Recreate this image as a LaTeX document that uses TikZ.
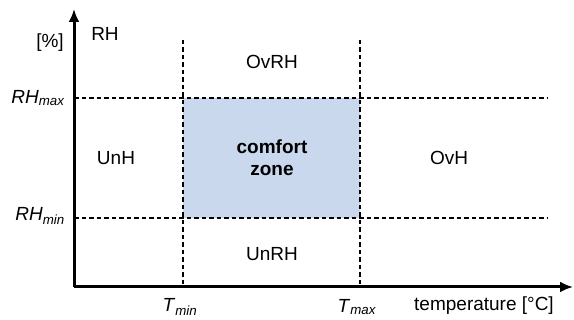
\documentclass[tikz,border=0pt]{standalone}
\usepackage{fontspec}
\setmainfont{Liberation Sans}
\usepackage{xcolor}
\usetikzlibrary{arrows.meta,positioning,calc}
\definecolor{czblue}{HTML}{C9D8EC}
\begin{document}
\begin{tikzpicture}[
 x=1pt, y=-1pt, font=\fontsize{19}{22}\selectfont,
 axis/.style={line width=3pt,-{Latex[length=13pt,width=11pt]}},
 limit/.style={line width=1.1pt,dash pattern=on 4.5pt off 3pt},
 region/.style={inner sep=0pt,anchor=center},
 tick/.style={inner sep=0pt}
]
\useasboundingbox (0,0) rectangle (574,320);
% axes
\coordinate (origin) at (74,287);
\coordinate (ytop) at (74,9);
\coordinate (xend) at (573,287);
% limits
\coordinate (tminT) at (183,40);
\coordinate (tmaxT) at (360,40);
\coordinate (rhmaxR) at (548,98);
\coordinate (rhminR) at (548,218);
\fill[czblue] (tminT |- rhmaxR) rectangle (tmaxT |- rhminR);
\foreach \c in {tminT,tmaxT} {
 \draw[limit] (\c) -- (\c |- origin);
}
\foreach \c in {rhmaxR,rhminR} {
 \draw[limit] (origin |- \c) -- (\c);
}
\draw[axis] (origin) -- (ytop);
\draw[axis] (origin) -- (xend);
% axis labels
\node[tick] (rhlab) at (105,34) {RH};
\node[tick] (unit) at (50,43) {[\%]};
\node[tick,anchor=east] (rhmax) at (65,98) {\textit{RH}\textsubscript{\textit{max}}};
\node[tick,anchor=east] (rhmin) at (65,216) {\textit{RH}\textsubscript{\textit{min}}};
\node[tick] (tmin) at (180,307) {\textit{T}\textsubscript{\textit{min}}};
\node[tick] (tmax) at (357,307) {\textit{T}\textsubscript{\textit{max}}};
\node[tick] (xlab) at (484,306) {temperature [°C]};
% regions
\node[region] (ovrh) at (272,62) {OvRH};
\node[region] (unh) at (116,158) {UnH};
\node[region] (ovh) at (449,158) {OvH};
\node[region] (unrh) at (272,254) {UnRH};
\node[region,align=center,font=\fontsize{19}{22}\selectfont\bfseries] (comfort) at (272,158) {comfort\\zone};
\end{tikzpicture}
\end{document}
